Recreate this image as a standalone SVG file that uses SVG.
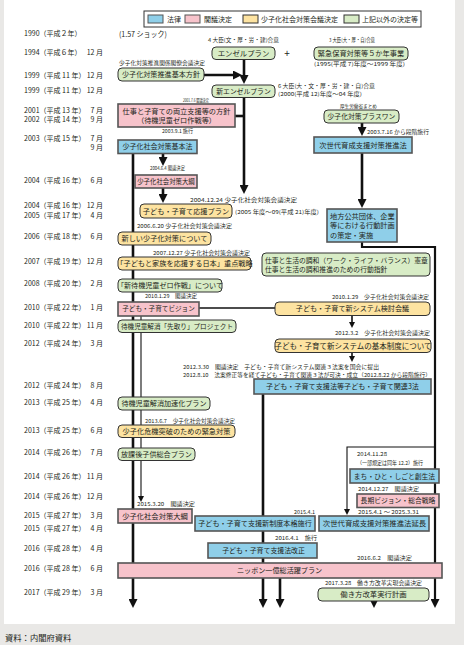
<svg xmlns="http://www.w3.org/2000/svg" width="464" height="645" viewBox="0 0 464 645">
<defs>
<style>
text{font-family:"Noto Sans CJK JP","Noto Sans",sans-serif;fill:#231f20}
.yr{font-size:7px}
.mo{font-size:7px;text-anchor:end}
.lb{font-size:5.3px}
.nt{text-anchor:middle}
.bl{fill:#8fcfe9;stroke:#555;stroke-width:1.6}
.pk{fill:#f7c3cb;stroke:#555;stroke-width:1.6}
.yl{fill:#fde3a1;stroke:#333;stroke-width:1}
.gr{fill:#d8ecc6;stroke:#333;stroke-width:1}
.th{stroke:#111;stroke-width:2.6;fill:none}
.md{stroke:#111;stroke-width:1.6;fill:none}
.tn{stroke:#111;stroke-width:1.1;fill:none}
</style>
<marker id="a" markerUnits="userSpaceOnUse" markerWidth="9" markerHeight="9" refX="4.5" refY="4.5" orient="auto" viewBox="0 0 9 9"><path d="M0,0 L9,4.5 L0,9z" fill="#111"/></marker>
<marker id="s" markerUnits="userSpaceOnUse" markerWidth="6" markerHeight="6" refX="3" refY="3" orient="auto" viewBox="0 0 6 6"><path d="M0,0 L6,3 L0,6z" fill="#111"/></marker>
</defs>
<rect x="0" y="0" width="464" height="645" fill="#e9e8e6"/>
<rect x="4" y="0" width="451" height="624" fill="#ffffff"/>
<text x="5" y="641" font-size="8.3">資料：内閣府資料</text>

<g id="legend">
<rect x="144" y="11" width="277" height="16" fill="#fff" stroke="#333" stroke-width="1"/>
<rect class="bl" x="148" y="15" width="15" height="8" style="stroke-width:1"/>
<text x="167" y="21.6" font-size="7">法律</text>
<rect class="pk" x="185" y="15" width="15" height="8" style="stroke-width:1"/>
<text x="204" y="21.6" font-size="7">閣議決定</text>
<rect class="yl" x="243" y="15" width="15" height="8"/>
<text x="261" y="21.6" font-size="7">少子化社会対策会議決定</text>
<rect class="gr" x="344" y="15" width="15" height="8"/>
<text x="362" y="21.6" font-size="7">上記以外の決定等</text>
</g>

<g id="years">
<text class="yr" x="24" y="36.4">1990（平成２年）</text>
<text class="yr" x="24" y="55.4">1994（平成６年）</text><text class="mo" x="103" y="55.4">12 月</text>
<text class="yr" x="24" y="78.4">1999（平成 11 年）</text><text class="mo" x="103" y="78.4">12 月</text>
<text class="yr" x="24" y="93.4">1999（平成 11 年）</text><text class="mo" x="103" y="93.4">12 月</text>
<text class="yr" x="24" y="113.4">2001（平成 13 年）</text><text class="mo" x="103" y="113.4">7 月</text>
<text class="yr" x="24" y="122.4">2002（平成 14 年）</text><text class="mo" x="103" y="122.4">9 月</text>
<text class="yr" x="24" y="141.4">2003（平成 15 年）</text><text class="mo" x="103" y="141.4">7 月</text>
<text class="mo" x="103" y="150.4">9 月</text>
<text class="yr" x="24" y="183.4">2004（平成 16 年）</text><text class="mo" x="103" y="183.4">6 月</text>
<text class="yr" x="24" y="208.4">2004（平成 16 年）</text><text class="mo" x="103" y="208.4">12 月</text>
<text class="yr" x="24" y="218.4">2005（平成 17 年）</text><text class="mo" x="103" y="218.4">4 月</text>
<text class="yr" x="24" y="239.4">2006（平成 18 年）</text><text class="mo" x="103" y="239.4">6 月</text>
<text class="yr" x="24" y="264.4">2007（平成 19 年）</text><text class="mo" x="103" y="264.4">12 月</text>
<text class="yr" x="24" y="286.4">2008（平成 20 年）</text><text class="mo" x="103" y="286.4">2 月</text>
<text class="yr" x="24" y="310.4">2010（平成 22 年）</text><text class="mo" x="103" y="310.4">1 月</text>
<text class="yr" x="24" y="328.4">2010（平成 22 年）</text><text class="mo" x="103" y="328.4">11 月</text>
<text class="yr" x="24" y="346.4">2012（平成 24 年）</text><text class="mo" x="103" y="346.4">3 月</text>
<text class="yr" x="24" y="388.4">2012（平成 24 年）</text><text class="mo" x="103" y="388.4">8 月</text>
<text class="yr" x="24" y="405.4">2013（平成 25 年）</text><text class="mo" x="103" y="405.4">4 月</text>
<text class="yr" x="24" y="433.4">2013（平成 25 年）</text><text class="mo" x="103" y="433.4">6 月</text>
<text class="yr" x="24" y="455.4">2014（平成 26 年）</text><text class="mo" x="103" y="455.4">7 月</text>
<text class="yr" x="24" y="479.4">2014（平成 26 年）</text><text class="mo" x="103" y="479.4">11 月</text>
<text class="yr" x="24" y="499.4">2014（平成 26 年）</text><text class="mo" x="103" y="499.4">12 月</text>
<text class="yr" x="24" y="518.4">2015（平成 27 年）</text><text class="mo" x="103" y="518.4">3 月</text>
<text class="yr" x="24" y="531.4">2015（平成 27 年）</text><text class="mo" x="103" y="531.4">4 月</text>
<text class="yr" x="24" y="551.4">2016（平成 28 年）</text><text class="mo" x="103" y="551.4">4 月</text>
<text class="yr" x="24" y="571.4">2016（平成 28 年）</text><text class="mo" x="103" y="571.4">6 月</text>
<text class="yr" x="24" y="595.4">2017（平成 29 年）</text><text class="mo" x="103" y="595.4">3 月</text>
</g>

<g id="connectors">
<line class="th" x1="244" y1="59" x2="244" y2="79.5" marker-end="url(#a)"/>
<line class="th" x1="204" y1="75" x2="237.5" y2="75" marker-end="url(#a)"/>
<line class="th" x1="244" y1="97" x2="244" y2="189.5" marker-end="url(#a)"/>
<line class="th" x1="235" y1="116" x2="244" y2="116"/>
<line class="th" x1="163" y1="153" x2="163" y2="161.5" marker-end="url(#a)"/>
<line class="th" x1="163" y1="188" x2="163" y2="198.5" marker-end="url(#a)"/>
<line class="th" x1="133" y1="153" x2="133" y2="603.5" marker-end="url(#a)"/>
<line class="th" x1="362" y1="123" x2="362" y2="131.5" marker-end="url(#a)"/>
<line class="th" x1="362" y1="153" x2="362" y2="203.5" marker-end="url(#a)"/>
<polyline class="th" points="362,242 362,247 435,247 435,603.5" style="stroke-width:2.2" marker-end="url(#a)"/>
<line class="th" x1="263" y1="394" x2="263" y2="603.5" marker-end="url(#a)"/>
<line class="th" x1="280" y1="578" x2="280" y2="603.5" marker-end="url(#a)"/>
<line class="th" x1="374" y1="601" x2="374" y2="603.5" marker-end="url(#a)"/>
<line class="md" x1="199" y1="308" x2="275" y2="308"/>
<line class="md" x1="352" y1="315" x2="352" y2="325" marker-end="url(#s)"/>
<line class="md" x1="352" y1="352" x2="352" y2="359" marker-end="url(#s)"/>
<line class="tn" x1="141" y1="316" x2="141" y2="499" marker-end="url(#s)"/>
<polyline class="tn" points="435,447 347,447 347,512" marker-end="url(#s)"/>
</g>

<g id="labels">
<text x="119" y="36.6" font-size="7.5" textLength="48" lengthAdjust="spacingAndGlyphs">(1.57 ショック)</text>
<text class="lb" x="208" y="42" textLength="71" lengthAdjust="spacingAndGlyphs">4 大臣(文・厚・労・建)合意</text>
<text class="lb" x="329" y="42" textLength="46" lengthAdjust="spacingAndGlyphs">3 大臣(大・厚・自)合意</text>
<text class="lb" x="314" y="66" textLength="91" lengthAdjust="spacingAndGlyphs">(1995(平成 7)年度～1999 年度)</text>
<text x="287" y="56.5" font-size="10" text-anchor="middle">+</text>
<text class="lb" x="119" y="65" textLength="86" lengthAdjust="spacingAndGlyphs">少子化対策推進関係閣僚会議決定</text>
<text class="lb" x="278" y="88" textLength="97" lengthAdjust="spacingAndGlyphs">6 大臣(大・文・厚・労・建・自)合意</text>
<text class="lb" x="278" y="96" textLength="84" lengthAdjust="spacingAndGlyphs">(2000(平成 12)年度～04 年度)</text>
<text class="lb" x="183" y="101.5" style="font-size:4.5px" textLength="26" lengthAdjust="spacingAndGlyphs">2001.7.6 閣議決定</text>
<text class="lb" x="340" y="108" style="font-size:4.6px" textLength="37" lengthAdjust="spacingAndGlyphs">厚生労働省まとめ</text>
<text class="lb" x="367" y="134" textLength="62" lengthAdjust="spacingAndGlyphs">2003.7.16 から段階施行</text>
<text class="lb" x="162" y="133" textLength="31" lengthAdjust="spacingAndGlyphs">2003.9.1 施行</text>
<text class="lb" x="150" y="170" textLength="35" lengthAdjust="spacingAndGlyphs">2004.6.4 閣議決定</text>
<text class="lb" x="190" y="202" textLength="107" lengthAdjust="spacingAndGlyphs">2004.12.24 少子化社会対策会議決定</text>
<text class="lb" x="235" y="214" textLength="84" lengthAdjust="spacingAndGlyphs">(2005 年度～09(平成 21)年度)</text>
<text class="lb" x="137" y="228" textLength="95" lengthAdjust="spacingAndGlyphs">2006.6.20 少子化社会対策会議決定</text>
<text class="lb" x="153" y="255" textLength="97" lengthAdjust="spacingAndGlyphs">2007.12.27 少子化社会対策会議決定</text>
<text class="lb" x="145" y="298" textLength="52" lengthAdjust="spacingAndGlyphs">2010.1.29　閣議決定</text>
<text class="lb" x="332" y="299" textLength="97" lengthAdjust="spacingAndGlyphs">2010.1.29　少子化社会対策会議決定</text>
<text class="lb" x="335" y="335" textLength="95" lengthAdjust="spacingAndGlyphs">2012.3.2　少子化社会対策会議決定</text>
<text class="lb" x="183" y="369" textLength="196" lengthAdjust="spacingAndGlyphs">2012.3.30　閣議決定　子ども・子育て新システム関連３法案を国会に提出</text>
<text class="lb" x="183" y="377" textLength="248" lengthAdjust="spacingAndGlyphs">2012.8.10　法案修正等を経て子ども・子育て関連３法が可決・成立（2012.8.22 から段階施行）</text>
<text class="lb" x="145" y="423" textLength="90" lengthAdjust="spacingAndGlyphs">2013.6.7　少子化社会対策会議決定</text>
<text class="lb" x="357" y="456" textLength="30" lengthAdjust="spacingAndGlyphs">2014.11.28</text>
<text class="lb" x="357" y="465" textLength="66" lengthAdjust="spacingAndGlyphs">（一部規定は同年 12.2）施行</text>
<text class="lb" x="358" y="491" textLength="61" lengthAdjust="spacingAndGlyphs">2014.12.27　閣議決定</text>
<text class="lb" x="137" y="506" textLength="58" lengthAdjust="spacingAndGlyphs">2015.3.20　閣議決定</text>
<text class="lb" x="294" y="514" textLength="21" lengthAdjust="spacingAndGlyphs">2015.4.1</text>
<text class="lb" x="358" y="514" textLength="61" lengthAdjust="spacingAndGlyphs">2015.4.1 ～ 2025.3.31</text>
<text class="lb" x="275" y="540" textLength="42" lengthAdjust="spacingAndGlyphs">2016.4.1　施行</text>
<text class="lb" x="357" y="560" textLength="55" lengthAdjust="spacingAndGlyphs">2016.6.2　閣議決定</text>
<text class="lb" x="325" y="585" textLength="97" lengthAdjust="spacingAndGlyphs">2017.3.28　働き方改革実現会議決定</text>
</g>

<g id="n-angel"><rect class="gr" x="212" y="47" width="63" height="12.5" rx="4"/><text class="nt" x="243.5" y="55.9" font-size="7.4">エンゼルプラン</text></g>
<g id="n-kinkyu"><rect class="gr" x="314" y="47" width="94" height="13" rx="4"/><text class="nt" x="361" y="56.1" font-size="7.2">緊急保育対策等５か年事業</text></g>
<g id="n-kihonhoshin"><rect class="gr" x="118" y="68" width="86" height="13" rx="4"/><text class="nt" x="161" y="77.1" font-size="7.1">少子化対策推進基本方針</text></g>
<g id="n-shinangel"><rect class="gr" x="212" y="85" width="63" height="12.5" rx="4"/><text class="nt" x="243.5" y="93.7" font-size="6.8">新エンゼルプラン</text></g>
<g id="n-ryoritsu"><rect class="pk" x="118" y="104" width="117" height="23"/><text class="nt" x="176.5" y="113.6" font-size="7.2">仕事と子育ての両立支援等の方針</text><text class="nt" x="176.5" y="123.4" font-size="7.2">（待機児童ゼロ作戦等）</text></g>
<g id="n-plusone"><rect class="gr" x="324" y="110" width="75" height="13" rx="4"/><text class="nt" x="361.5" y="119" font-size="6.8">少子化対策プラスワン</text></g>
<g id="n-jisedai"><rect class="bl" x="314" y="137" width="98" height="16"/><text class="nt" x="363" y="147.6" font-size="7.3">次世代育成支援対策推進法</text></g>
<g id="n-kihonho"><rect class="bl" x="118" y="140" width="79" height="13.5"/><text class="nt" x="157.5" y="149.3" font-size="7">少子化社会対策基本法</text></g>
<g id="n-taiko2004"><rect class="pk" x="135" y="175" width="62" height="13"/><text class="nt" x="166" y="183.8" font-size="6.4">少子化社会対策大綱</text></g>
<g id="n-oen"><rect class="yl" x="140" y="204" width="92" height="14" rx="4"/><text class="nt" x="186" y="213.6" font-size="7.2">子ども・子育て応援プラン</text></g>
<g id="n-chiho"><rect class="bl" x="327" y="209" width="70" height="33"/><text x="330" y="218.6" font-size="7.2">地方公共団体、企業</text><text x="330" y="228.4" font-size="7.2">等における行動計画</text><text x="330" y="238.2" font-size="7.2">の策定・実施</text></g>
<g id="n-atarashii"><rect class="yl" x="118" y="232" width="93" height="13" rx="4"/><text class="nt" x="164.5" y="241.1" font-size="7.2">新しい少子化対策について</text></g>
<g id="n-juten"><rect class="yl" x="118" y="257" width="133" height="13" rx="4"/><text class="nt" x="184.5" y="266.1" font-size="7.2">「子どもと家族を応援する日本」重点戦略</text></g>
<g id="n-wlb"><rect class="gr" x="262" y="253" width="168" height="23" rx="4"/><text x="265" y="262.8" font-size="6.8">仕事と生活の調和（ワーク・ライフ・バランス）憲章</text><text x="265" y="272" font-size="6.8">仕事と生活の調和推進のための行動指針</text></g>
<g id="n-zerosakusen"><rect class="gr" x="118" y="279" width="104" height="13" rx="4"/><text class="nt" x="170" y="288.1" font-size="7.1">「新待機児童ゼロ作戦」について</text></g>
<g id="n-vision"><rect class="pk" x="118" y="302" width="81" height="14"/><text class="nt" x="158.5" y="311.4" font-size="6.6">子ども・子育てビジョン</text></g>
<g id="n-kento"><rect class="yl" x="275" y="302" width="155" height="13.5" rx="4"/><text class="nt" x="352.5" y="311.3" font-size="7.1">子ども・子育て新システム検討会議</text></g>
<g id="n-sakidori"><rect class="gr" x="118" y="320" width="118" height="12.5" rx="4"/><text class="nt" x="177" y="328.6" font-size="6.6">待機児童解消「先取り」プロジェクト</text></g>
<g id="n-kihonseido"><rect class="yl" x="275" y="339" width="156" height="13.5" rx="4"/><text class="nt" x="353" y="348.5" font-size="7.5">子ども・子育て新システムの基本制度について</text></g>
<g id="n-kanren3"><rect class="bl" x="254" y="379" width="177" height="15"/><text class="nt" x="342.5" y="389" font-size="7.1">子ども・子育て支援法等子ども・子育て関連3法</text></g>
<g id="n-kasoku"><rect class="gr" x="118" y="397" width="92" height="13" rx="4"/><text class="nt" x="164" y="406.1" font-size="7.1">待機児童解消加速化プラン</text></g>
<g id="n-kinkyutaisaku"><rect class="yl" x="118" y="425" width="117" height="12.5" rx="4"/><text class="nt" x="176.5" y="433.8" font-size="7.2">少子化危機突破のための緊急対策</text></g>
<g id="n-hokago"><rect class="gr" x="118" y="448" width="77" height="12.5" rx="4"/><text class="nt" x="156.5" y="456.8" font-size="7.1">放課後子供総合プラン</text></g>
<g id="n-machi"><rect class="bl" x="350" y="469" width="89" height="14"/><text class="nt" x="394.5" y="478.5" font-size="6.8">まち・ひと・しごと創生法</text></g>
<g id="n-choki"><rect class="pk" x="357" y="494" width="82" height="13.5"/><text class="nt" x="398" y="503.2" font-size="6.8">長期ビジョン・総合戦略</text></g>
<g id="n-taiko2015"><rect class="pk" x="118" y="509" width="74" height="14"/><text class="nt" x="155" y="518.6" font-size="7.3">少子化社会対策大綱</text></g>
<g id="n-shinseido"><rect class="bl" x="195" y="516" width="120" height="15"/><text class="nt" x="255" y="526.1" font-size="7.1">子ども・子育て支援新制度本格施行</text></g>
<g id="n-encho"><rect class="bl" x="319" y="516" width="110" height="15"/><text class="nt" x="374.5" y="526.2" font-size="7.4">次世代育成支援対策推進法延長</text></g>
<g id="n-kaisei"><rect class="bl" x="208" y="543" width="109" height="15"/><text class="nt" x="263.5" y="553" font-size="6.9">子ども・子育て支援法改正</text></g>
<g id="n-nippon"><rect class="pk" x="118" y="563" width="324" height="15"/><text x="237" y="573.1" font-size="7.1">ニッポン一億総活躍プラン</text></g>
<g id="n-hatarakikata"><rect class="gr" x="318" y="588" width="111" height="13" rx="4"/><text class="nt" x="373.5" y="597.2" font-size="7.4">働き方改革実行計画</text></g>
</svg>
